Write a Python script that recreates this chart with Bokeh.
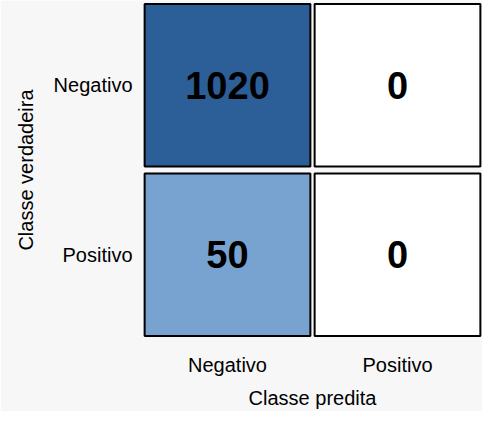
from bokeh.plotting import figure
from bokeh.models import FixedTicker
from bokeh.embed import file_html
from bokeh.resources import INLINE

# confusion matrix data
pred = ["Negativo", "Positivo", "Negativo", "Positivo"]
true = ["Negativo", "Negativo", "Positivo", "Positivo"]
counts = [1020, 0, 50, 0]
colors = ["#2c5f97", "#ffffff", "#78a3d1", "#ffffff"]
labels = ["Negativo", "Positivo"]

xs = [labels.index(c) + 0.5 for c in pred]
ys = [1.5 - labels.index(c) for c in true]

p = figure(width=482, height=411, x_range=(0, 2), y_range=(0, 2),
           output_backend="svg", toolbar_location=None,
           min_border_left=142, min_border_right=0, min_border_top=0)
p.background_fill_color = "#f7f7f7"
p.border_fill_color = "#f7f7f7"
p.outline_line_color = None
p.grid.visible = False

p.rect(xs, ys, width=0.975, height=0.96, fill_color=colors,
       line_color="black", line_width=2)
p.text(xs, ys, text=[str(c) for c in counts], text_align="center",
       text_baseline="middle", text_font_size="38px", text_font_style="bold",
       text_color="black", text_font={"value": "Liberation Sans"})

p.xaxis.ticker = FixedTicker(ticks=[0.5, 1.5])
p.xaxis.major_label_overrides = {0.5: "Negativo", 1.5: "Positivo"}
p.yaxis.ticker = FixedTicker(ticks=[0.5, 1.5])
p.yaxis.major_label_overrides = {0.5: "Positivo", 1.5: "Negativo"}
p.xaxis.axis_label = "Classe predita"
p.yaxis.axis_label = "Classe verdadeira"
for ax in (p.xaxis, p.yaxis):
    ax.axis_line_color = None
    ax.major_tick_line_color = None
    ax.minor_tick_line_color = None
    ax.major_label_text_font = "Liberation Sans"
    ax.major_label_text_font_size = "20px"
    ax.major_label_text_color = "black"
    ax.axis_label_text_font = "Liberation Sans"
    ax.axis_label_text_font_size = "20px"
    ax.axis_label_text_font_style = "normal"
    ax.axis_label_text_color = "black"
p.xaxis.major_label_standoff = 8
p.xaxis.axis_label_standoff = 8
p.yaxis.major_label_standoff = 4
p.yaxis.axis_label_standoff = 14

open("out.html", "w").write(file_html(p, INLINE))
